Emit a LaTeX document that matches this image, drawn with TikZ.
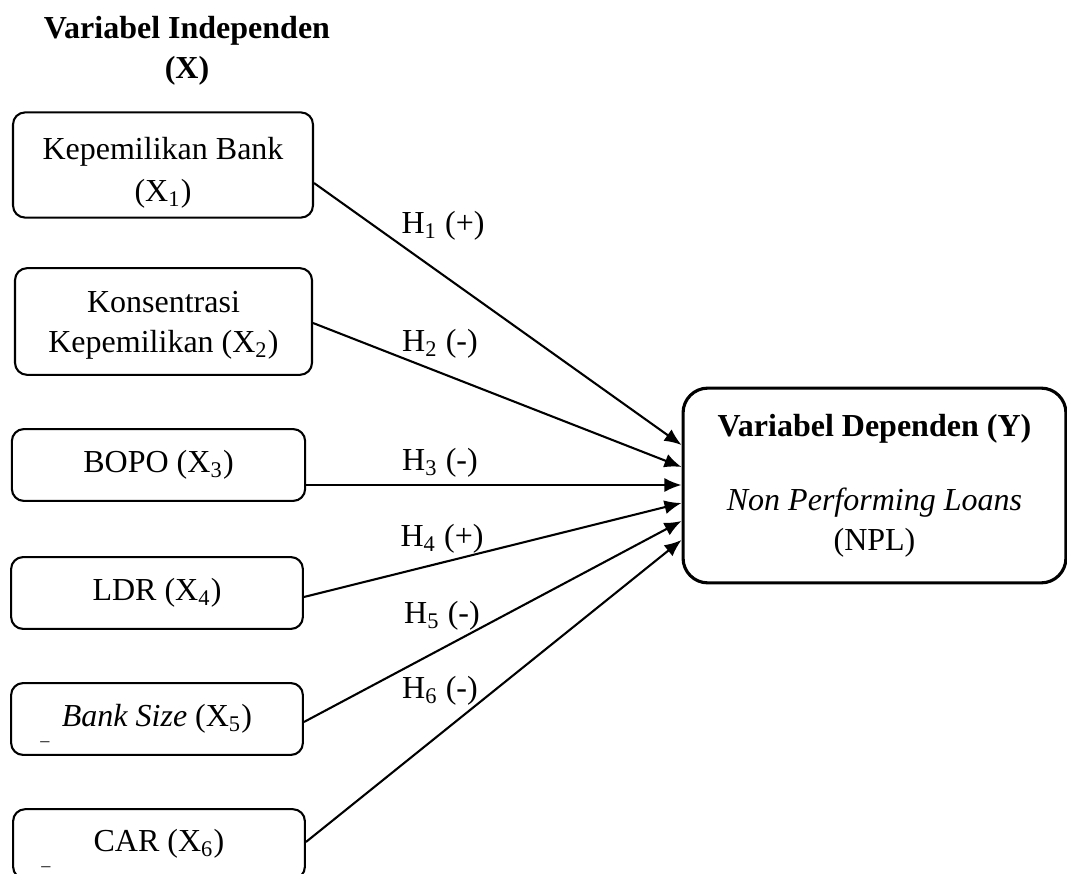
\documentclass[tikz,border=0pt]{standalone}
\usepackage{fontspec}
\setmainfont{Liberation Serif}
\usetikzlibrary{arrows.meta}

\begin{document}
\fontsize{12.3}{15.4}\selectfont
\begin{tikzpicture}[x=0.0135cm,y=-0.0135cm,
        varbox/.style={draw,rounded corners=4.6pt,line width=0.8pt,align=center,inner sep=0pt},
        hyp/.style={-{Latex[length=2.3mm,width=1.9mm]},line width=0.8pt}]
    \useasboundingbox (0,0) rectangle (1067,874);
    \node[font=\bfseries,align=center] (title) at (187,51) {Variabel Independen\\(X)};
    % independent variables
    \node[varbox,minimum width=4.05cm,minimum height=1.42cm] (b1) at (163,165) {\rule{0pt}{14.5pt}Kepemilikan Bank\\[1pt](X\textsubscript{1})};
    \node[varbox,minimum width=4.01cm,minimum height=1.44cm] (b2) at (163.5,321.5) {\rule{0pt}{11pt}Konsentrasi\\Kepemilikan (X\textsubscript{2})};
    \node[varbox,minimum width=3.96cm,minimum height=0.97cm] (b3) at (158.5,465) {BOPO (X\textsubscript{3})};
    \node[varbox,minimum width=3.94cm,minimum height=0.97cm] (b4) at (157,593) {LDR (X\textsubscript{4})};
    \node[varbox,minimum width=3.94cm,minimum height=0.97cm] (b5) at (157,719) {\textit{Bank Size} (X\textsubscript{5})};
    \node[varbox,minimum width=3.94cm,minimum height=0.94cm] (b6) at (159,844) {CAR (X\textsubscript{6})};
    \node[font=\scriptsize] (d5) at (45,744) {--};
    \node[font=\scriptsize] (d6) at (46,869) {--};
    % dependent variable
    \node[varbox,rounded corners=9.5pt,line width=1.2pt,minimum width=5.17cm,minimum height=2.63cm] (y) at (874.5,485.5)
        {\textbf{Variabel Dependen (Y)}\\[13pt]\textit{Non Performing Loans}\\(NPL)};
    % hypotheses
    \draw[hyp] (b1.east |- 0,183) -- (y.west |- 0,445);
    \draw[hyp] (b2.east |- 0,323) -- (y.west |- 0,467);
    \draw[hyp] (b3.east |- 0,485) -- (y.west |- 0,485);
    \draw[hyp] (b4.east |- 0,597) -- (y.west |- 0,503);
    \draw[hyp] (b5.east |- 0,722) -- (y.west |- 0,521);
    \draw[hyp] (b6.east |- 0,842) -- (y.west |- 0,540);
    \node (h1) at (443,226) {H\textsubscript{1} (+)};
    \node (h2) at (440,344) {H\textsubscript{2} (-)};
    \node (h3) at (440,463) {H\textsubscript{3} (-)};
    \node (h4) at (442,539) {H\textsubscript{4} (+)};
    \node (h5) at (442,616) {H\textsubscript{5} (-)};
    \node (h6) at (440,691) {H\textsubscript{6} (-)};
\end{tikzpicture}
\end{document}
